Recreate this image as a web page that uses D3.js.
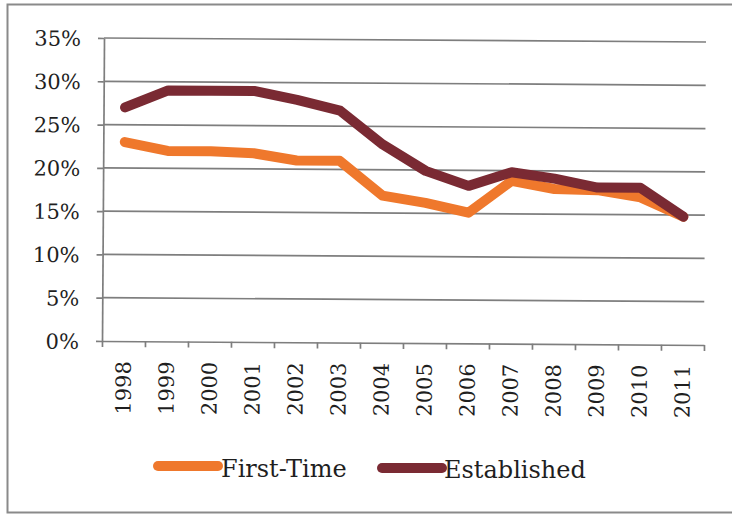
<!DOCTYPE html>
<html>
<head>
<meta charset="utf-8">
<script src="https://cdn.jsdelivr.net/npm/d3@7"></script>
<style>
  html, body { margin: 0; padding: 0; background: #ffffff; }
  svg { display: block; }
</style>
</head>
<body>
<script>
// Share of firms by year, first-time vs established
const years = ["1998","1999","2000","2001","2002","2003","2004","2005","2006","2007","2008","2009","2010","2011"];
const firstTime   = [23.0, 22.0, 22.0, 21.8, 21.0, 21.0, 17.0, 16.2, 15.1, 18.8, 17.9, 17.8, 17.0, 14.8];
const established = [27.0, 29.0, 29.0, 29.0, 28.0, 26.8, 22.9, 19.9, 18.2, 19.8, 19.1, 18.1, 18.1, 14.8];
const yTicks = [0, 5, 10, 15, 20, 25, 30, 35];
const seriesNames = ["First-Time", "Established"];
const seriesColors = ["#ef782c", "#7a2a33"];

const W = 732, H = 516;
const font = "'DejaVu Serif', 'Liberation Serif', serif";
const gridColor = "#7e7e7e";
const textColor = "#1f1f1f";

const svg = d3.select("body").append("svg")
  .attr("width", W).attr("height", H);

// outer frame
svg.append("path")
  .attr("d", "M734,4.5H7.5V512.5H734")
  .attr("fill", "none")
  .attr("stroke", "#8a8a8a")
  .attr("stroke-width", 2);

const plotLeft = 103, plotRight = 705, plotTop = 40, plotBottom = 343;

const x = d3.scaleBand().domain(years).range([plotLeft, plotRight]).padding(0);
const xEdge = d3.scaleLinear().domain([0, years.length]).range([plotLeft, plotRight]);
const y = d3.scaleLinear().domain([0, 35]).range([plotBottom, plotTop]);

const plot = svg.append("g").attr("transform", "rotate(0.38 404 192)");

// horizontal gridlines
plot.append("g")
  .selectAll("line")
  .data(yTicks.filter(t => t > 0))
  .join("line")
  .attr("x1", plotLeft).attr("x2", plotRight)
  .attr("y1", d => y(d)).attr("y2", d => y(d))
  .attr("stroke", gridColor).attr("stroke-width", 1.7);

// y axis
const yAxis = plot.append("g")
  .attr("transform", `translate(${plotLeft},0)`)
  .call(d3.axisLeft(y).tickValues(yTicks).tickSize(6).tickSizeOuter(0)
    .tickFormat(d => d + "%"));
yAxis.select(".domain").attr("stroke", gridColor).attr("stroke-width", 1.7);
yAxis.selectAll(".tick line").attr("stroke", gridColor).attr("stroke-width", 1.7);
yAxis.selectAll(".tick text")
  .attr("x", -23)
  .attr("dy", "0.36em")
  .style("font-family", font)
  .style("font-size", "21px")
  .attr("fill", textColor);

// x axis: tick marks at category boundaries
const xTickAxis = plot.append("g")
  .attr("transform", `translate(0,${plotBottom})`)
  .call(d3.axisBottom(xEdge).tickValues(d3.range(years.length + 1))
    .tickSize(6).tickSizeOuter(0).tickFormat(""));
xTickAxis.select(".domain").attr("stroke", gridColor).attr("stroke-width", 1.7);
xTickAxis.selectAll(".tick line").attr("stroke", gridColor).attr("stroke-width", 1.7);

// x axis: rotated year labels at category centres
const xLabelAxis = plot.append("g")
  .attr("transform", `translate(0,${plotBottom})`)
  .call(d3.axisBottom(x).tickSize(0).tickSizeOuter(0));
xLabelAxis.select(".domain").remove();
xLabelAxis.selectAll(".tick text")
  .attr("transform", "rotate(-90)")
  .attr("text-anchor", "end")
  .attr("x", -20)
  .attr("y", 0)
  .attr("dy", "0.36em")
  .style("font-family", font)
  .style("font-size", "21px")
  .attr("fill", textColor);

// series lines
const line = d3.line()
  .x((d, i) => x(years[i]) + x.bandwidth() / 2)
  .y(d => y(d))
  .curve(d3.curveLinear);

[firstTime, established].forEach((vals, k) => {
  plot.append("path")
    .datum(vals)
    .attr("d", line)
    .attr("fill", "none")
    .attr("stroke", seriesColors[k])
    .attr("stroke-width", 10)
    .attr("stroke-linejoin", "round")
    .attr("stroke-linecap", "round");
});

// legend
const legendItems = [
  { x0: 158, x1: 218, y: 466, tx: 221, ty: 477 },
  { x0: 382, x1: 442, y: 468, tx: 444, ty: 478 }
];
const legend = svg.append("g");
seriesNames.forEach((name, k) => {
  const it = legendItems[k];
  legend.append("line")
    .attr("x1", it.x0).attr("x2", it.x1)
    .attr("y1", it.y).attr("y2", it.y)
    .attr("stroke", seriesColors[k])
    .attr("stroke-width", 10)
    .attr("stroke-linecap", "round");
  legend.append("text")
    .attr("x", it.tx).attr("y", it.ty)
    .style("font-family", font)
    .style("font-size", "24px")
    .attr("fill", textColor)
    .text(name);
});
</script>
</body>
</html>
